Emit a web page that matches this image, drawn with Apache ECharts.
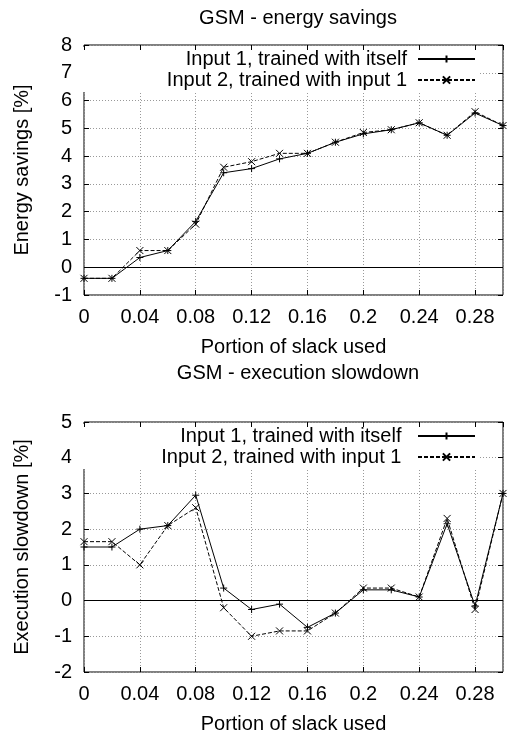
<!DOCTYPE html>
<html>
<head>
<meta charset="utf-8">
<script src="https://cdn.jsdelivr.net/npm/echarts@6/dist/echarts.min.js"></script>
<style>
  html, body { margin: 0; padding: 0; background: #fff; }
  #chart { width: 509px; height: 739px; }
</style>
</head>
<body>
<div id="chart"></div>
<script>
// slack portions (x) and the two measured series of each panel
var slack = [0, 0.02, 0.04, 0.06, 0.08, 0.10, 0.12, 0.14, 0.16, 0.18, 0.20, 0.22, 0.24, 0.26, 0.28, 0.30];
var energyIn1 = [-0.4, -0.4, 0.35, 0.6, 1.65, 3.4, 3.55, 3.9, 4.1, 4.5, 4.8, 4.95, 5.2, 4.75, 5.55, 5.1];
var energyIn2 = [-0.4, -0.4, 0.6, 0.6, 1.55, 3.6, 3.8, 4.1, 4.1, 4.5, 4.85, 4.95, 5.2, 4.75, 5.6, 5.1];
var slowIn1 = [1.5, 1.5, 2.0, 2.1, 2.95, 0.35, -0.25, -0.1, -0.75, -0.35, 0.3, 0.3, 0.1, 2.15, -0.15, 3.0];
var slowIn2 = [1.65, 1.65, 1.0, 2.1, 2.6, -0.2, -1.0, -0.85, -0.85, -0.35, 0.35, 0.35, 0.1, 2.3, -0.25, 3.0];
var seriesNames = ['Input 1, trained with itself', 'Input 2, trained with input 1'];
var titles = ['GSM - energy savings', 'GSM - execution slowdown'];
var yNames = ['Energy savings [%]', 'Execution slowdown [%]'];

var font = 'Liberation Sans, Arial, Helvetica, sans-serif';
var fs = 20;
var plusSym = 'path://M0,5L10,5M5,0L5,10';
var crossSym = 'path://M0,0L10,10M10,0L0,10';

function pairs(ys) {
  return slack.map(function (x, i) { return [x, ys[i]]; });
}

var grids = [
  {left: 84, width: 419, top: 45, height: 250},
  {left: 84, width: 419, top: 422, height: 250}
];
var yRanges = [[-1, 8], [-2, 5]];

var chart = echarts.init(document.getElementById('chart'), null, {renderer: 'canvas'});

var option = {
  backgroundColor: '#fff',
  animation: false,
  textStyle: {fontFamily: font, color: '#000'},
  title: titles.map(function (t, i) {
    return {
      text: t,
      left: 293,
      textAlign: 'center',
      top: i === 0 ? 3 : 358,
      textStyle: {fontFamily: font, fontSize: fs, fontWeight: 'normal', color: '#000'}
    };
  }),
  legend: [0, 1].map(function (i) {
    return {
      data: seriesNames.map(function (n) { return n + (i ? ' ' : ''); }),
      orient: 'vertical',
      align: 'right',
      right: 31,
      top: grids[i].top + 2,
      itemWidth: 57,
      itemHeight: 9,
      itemGap: 1,
      padding: [2, 2, 2, 90],
      backgroundColor: '#fff',
      textStyle: {fontFamily: font, fontSize: fs, color: '#000', lineHeight: 20, padding: [0, 6, 0, 0]}
    };
  }),
  grid: grids.map(function (g) {
    return {left: g.left, width: g.width, top: g.top, height: g.height,
      show: true, borderColor: '#000', borderWidth: 1, backgroundColor: 'transparent'};
  }),
  xAxis: [],
  yAxis: [],
  series: []
};

[0, 1].forEach(function (i) {
  // bottom axis with labels
  option.xAxis.push({
    type: 'value', gridIndex: i, min: 0, max: 0.3, interval: 0.04,
    name: 'Portion of slack used', nameLocation: 'middle', nameGap: 42,
    nameTextStyle: {fontFamily: font, fontSize: fs, color: '#000'},
    axisLine: {show: false, onZero: false},
    axisTick: {inside: true, length: 5, lineStyle: {color: '#000'}},
    axisLabel: {fontFamily: font, fontSize: fs, color: '#000', margin: 12, showMaxLabel: false,
      formatter: function (v) { return String(+v.toFixed(2)); }},
    splitLine: {show: true, lineStyle: {color: '#999', type: [1, 2]}}
  });
  // top mirror ticks
  option.xAxis.push({
    type: 'value', gridIndex: i, position: 'top', min: 0, max: 0.3, interval: 0.04, z: 10,
    axisLine: {show: false, onZero: false},
    axisTick: {inside: true, length: 5, lineStyle: {color: '#000'}},
    axisLabel: {show: false}, splitLine: {show: false}
  });
  option.yAxis.push({
    type: 'value', gridIndex: i, min: yRanges[i][0], max: yRanges[i][1], interval: 1,
    name: yNames[i], nameLocation: 'middle', nameGap: 52,
    nameTextStyle: {fontFamily: font, fontSize: fs, color: '#000'},
    axisLine: {show: false, onZero: false},
    axisTick: {inside: true, length: 5, lineStyle: {color: '#000'}},
    axisLabel: {fontFamily: font, fontSize: fs, color: '#000', margin: 12},
    splitLine: {show: true, lineStyle: {color: '#999', type: [1, 2]}}
  });
  // right mirror ticks
  option.yAxis.push({
    type: 'value', gridIndex: i, position: 'right', min: yRanges[i][0], max: yRanges[i][1], interval: 1, z: 10,
    axisLine: {show: false, onZero: false},
    axisTick: {inside: true, length: 5, lineStyle: {color: '#000'}},
    axisLabel: {show: false}, splitLine: {show: false}
  });
});

var panelData = [[energyIn1, energyIn2], [slowIn1, slowIn2]];
[0, 1].forEach(function (i) {
  [0, 1].forEach(function (k) {
    var s = {
      name: seriesNames[k] + (i ? ' ' : ''),
      type: 'line',
      xAxisIndex: i * 2,
      yAxisIndex: i * 2,
      data: pairs(panelData[i][k]),
      symbol: k === 0 ? plusSym : crossSym,
      symbolSize: 7,
      showAllSymbol: true,
      color: '#000',
      lineStyle: {color: '#000', width: 1, type: k === 0 ? 'solid' : [4, 2]},
      itemStyle: {color: '#000', borderColor: '#000', borderWidth: 1},
      z: 3
    };
    if (k === 0) {
      s.markLine = {
        silent: true, symbol: 'none', label: {show: false},
        lineStyle: {color: '#000', width: 1, type: 'solid'},
        data: [{yAxis: 0}]
      };
    }
    option.series.push(s);
  });
});

chart.setOption(option);
</script>
</body>
</html>
